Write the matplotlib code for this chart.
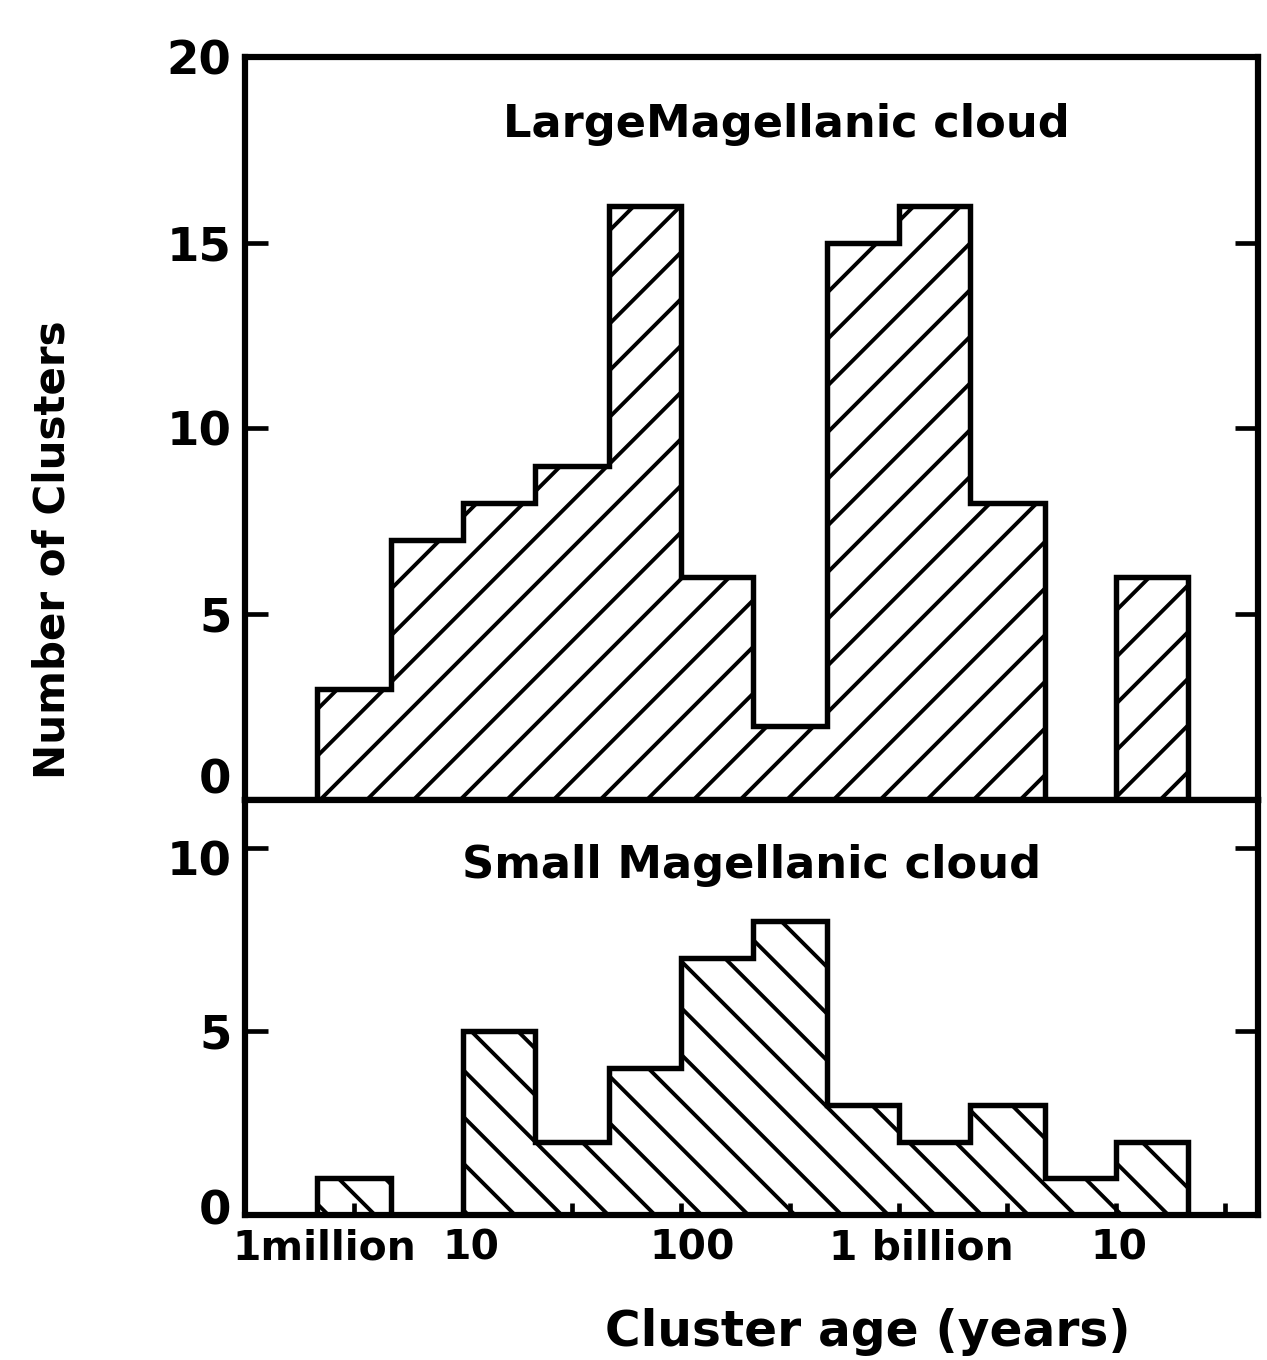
import numpy as np
import matplotlib.pyplot as plt
from matplotlib.ticker import FixedLocator, NullFormatter
from matplotlib.transforms import ScaledTranslation

plt.rcParams['font.family'] = 'DejaVu Sans'
plt.rcParams['font.weight'] = 'bold'
plt.rcParams['hatch.linewidth'] = 1.0

# bin edges in log10(age in years), counts
log_age_edges = [6.33, 6.67, 7.0, 7.33, 7.67, 8.0, 8.33, 8.67, 9.0, 9.33, 9.67, 10.0, 10.33]
lmc_counts = [3, 7, 8, 9, 16, 6, 2, 15, 16, 8, 0, 6]
smc_counts = [1, 0, 5, 2, 4, 7, 8, 3, 2, 3, 1, 2]

x_ticks = [1e6, 1e7, 1e8, 1e9, 1e10]
x_ticklabels = ['1million', '10', '100', '1 billion', '10']
x_label_shift_px = [79, 8, 11, 23, 3]
lmc_yticks = [0, 5, 10, 15, 20]
smc_yticks = [0, 5, 10]

DPI = 280
fig = plt.figure(figsize=(1267 / DPI, 1360 / DPI), dpi=DPI)
ax_top = fig.add_axes([0.1934, 0.4118, 0.7995, 0.5463])
ax_bot = fig.add_axes([0.1934, 0.1066, 0.7995, 0.3052])

edges = np.power(10.0, log_age_edges)
ax_top.stairs(lmc_counts, edges, fill=True, facecolor='white', edgecolor='black',
              hatch='//', linewidth=1.4)
ax_bot.stairs(smc_counts, edges, fill=True, facecolor='white', edgecolor='black',
              hatch='\\\\', linewidth=1.4)

half_decades = [10 ** (k + 0.5) for k in range(6, 11)]
for ax in (ax_top, ax_bot):
    ax.set_xscale('log')
    ax.set_xlim(1e6, 10 ** 10.65)
    ax.xaxis.set_major_locator(FixedLocator(x_ticks))
    ax.xaxis.set_minor_locator(FixedLocator(half_decades))
    ax.xaxis.set_minor_formatter(NullFormatter())
    for s in ax.spines.values():
        s.set_linewidth(1.6)
    ax.tick_params(axis='y', which='major', direction='in', length=6, width=1.2,
                   left=True, right=True, labelsize=12, pad=3.5)

ax_top.set_ylim(0, 20)
ax_top.set_yticks(lmc_yticks)
ax_top.tick_params(axis='x', which='both', bottom=False, labelbottom=False)

ax_bot.set_ylim(0, 11.3)
ax_bot.set_yticks(smc_yticks)
ax_bot.set_xticklabels(x_ticklabels)
ax_bot.tick_params(axis='x', which='both', direction='in', length=3, width=1.2,
                   labelsize=10.5, pad=3.5, top=False)

for tick, dx in zip(ax_bot.xaxis.get_major_ticks(), x_label_shift_px):
    lab = tick.label1
    lab.set_transform(lab.get_transform() + ScaledTranslation(dx / DPI, 0, fig.dpi_scale_trans))

# nudge the two labels that meet at the panel join
t0 = ax_top.yaxis.get_major_ticks()[0].label1
t0.set_transform(t0.get_transform() + ScaledTranslation(0, 24 / DPI, fig.dpi_scale_trans))
t10 = ax_bot.yaxis.get_major_ticks()[2].label1
t10.set_transform(t10.get_transform() + ScaledTranslation(0, -10 / DPI, fig.dpi_scale_trans))
b0 = ax_bot.yaxis.get_major_ticks()[0].label1
b0.set_transform(b0.get_transform() + ScaledTranslation(0, 8 / DPI, fig.dpi_scale_trans))

ax_top.text(0.534, 0.892, 'LargeMagellanic cloud', transform=ax_top.transAxes,
            ha='center', va='baseline', fontsize=11.5)
ax_bot.text(0.5005, 0.812, 'Small Magellanic cloud', transform=ax_bot.transAxes,
            ha='center', va='baseline', fontsize=11.5)

fig.text(0.0418, 0.5956, 'Number of Clusters', rotation=90, ha='center', va='center',
         fontsize=10.8)
fig.text(0.685, 0.0206, 'Cluster age (years)', ha='center', va='center', fontsize=12.5)

fig.savefig('out.png', dpi=DPI)
